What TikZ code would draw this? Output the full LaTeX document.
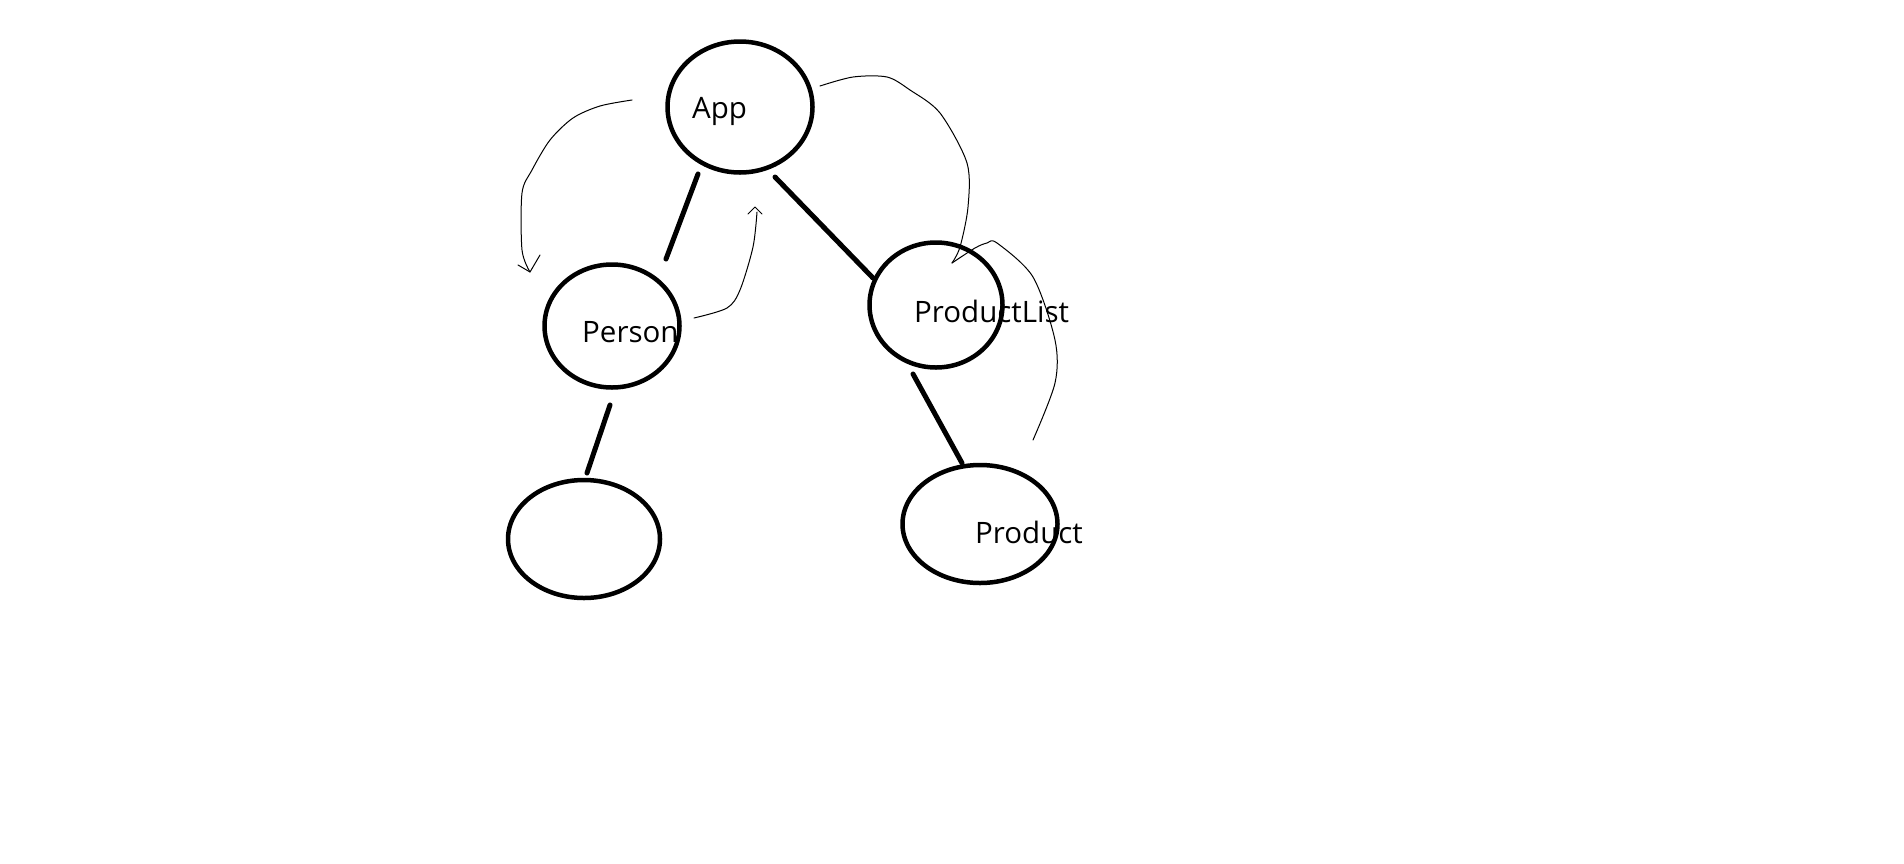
\documentclass[tikz,border=0pt]{standalone}
\usepackage{fontspec}
\setmainfont{Open Sans}
\usetikzlibrary{shapes.geometric}
\begin{document}
\begin{tikzpicture}[x=1pt,y=-1pt,
  comp/.style={draw=black,line width=4.5pt,ellipse,inner sep=0pt,outer sep=0pt},
  lbl/.style={anchor=base west,inner sep=0pt,font=\fontsize{29.5}{34}\selectfont},
  edge/.style={line width=5pt,line cap=round},
  flow/.style={line width=1pt,line join=round,line cap=round}]
\useasboundingbox[fill=white] (0,0) rectangle (1904,863);
% components
\node[comp,minimum width=145pt,minimum height=131pt] (app) at (740,107) {};
\node[comp,minimum width=135pt,minimum height=123pt] (person) at (612,326) {};
\node[comp,minimum width=133pt,minimum height=125pt] (plist) at (936,305) {};
\node[comp,minimum width=155pt,minimum height=118pt] (product) at (980,524) {};
\node[comp,minimum width=152pt,minimum height=118pt] (leaf) at (584,539) {};
% labels
\node[lbl] (tapp) at (692,118) {App};
\node[lbl] (tperson) at (582,342) {Person};
\node[lbl] (tplist) at (914,322) {ProductList};
\node[lbl] (tproduct) at (975,543) {Product};
% connector end points
\coordinate (e1a) at (698,174); \coordinate (e1b) at (666,259);
\coordinate (e2a) at (775,177); \coordinate (e2b) at (873,278);
\coordinate (e3a) at (913,374); \coordinate (e3b) at (962,463);
\coordinate (e4a) at (610,405); \coordinate (e4b) at (587,473);
\draw[edge] (e1a) -- (e1b);
\draw[edge] (e2a) -- (e2b);
\draw[edge] (e3a) -- (e3b);
\draw[edge] (e4a) -- (e4b);
% flow arrows
\coordinate (f1a) at (632,100); \coordinate (f1b) at (530,272);
\draw[flow] plot[smooth,tension=0.5] coordinates {(f1a) (600,106) (573,118) (550,140) (532,170) (522,193) (522,250) (f1b)};
\draw[flow] (518,265) -- (f1b) -- (540,255);
\coordinate (f2a) at (694,318); \coordinate (f2b) at (755,207);
\draw[flow] plot[smooth,tension=0.5] coordinates {(f2a) (727,308) (740,290) (753,247) (757,212)};
\draw[flow] (748,214) -- (f2b) -- (762,214);
\coordinate (f3a) at (820,86); \coordinate (tip) at (952,263);
\draw[flow] plot[smooth,tension=0.5] coordinates {(f3a) (853,77) (887,77) (910,90) (940,113) (967,163) (968,207) (960,247) (tip)};
\coordinate (f4a) at (1033,440);
\draw[flow] plot[smooth,tension=0.5] coordinates {(f4a) (1055,383) (1055,340) (1033,277) (997,243) (987,243) (975,248) (tip)};
\end{tikzpicture}
\end{document}
